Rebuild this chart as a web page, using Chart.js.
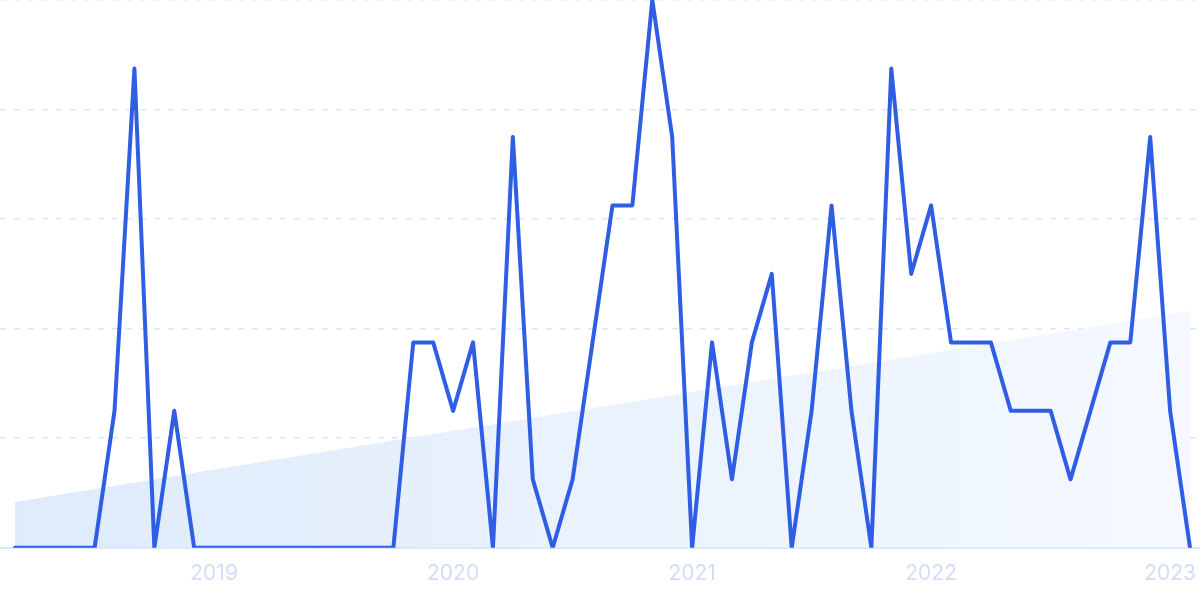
<!DOCTYPE html>
<html>
<head>
<meta charset="utf-8">
<script src="https://cdn.jsdelivr.net/npm/chart.js@4"></script>
<style>
  html, body { margin: 0; padding: 0; background: #fff; }
  #wrap { width: 1200px; height: 599px; position: relative; }
</style>
</head>
<body>
<div id="wrap"><canvas id="lineCanvas"></canvas></div>
<script>
const months = [
  '2018-03', '2018-04', '2018-05', '2018-06', '2018-07', '2018-08', '2018-09', '2018-10', '2018-11', '2018-12',
  '2019-01', '2019-02', '2019-03', '2019-04', '2019-05', '2019-06', '2019-07', '2019-08', '2019-09', '2019-10', '2019-11', '2019-12',
  '2020-01', '2020-02', '2020-03', '2020-04', '2020-05', '2020-06', '2020-07', '2020-08', '2020-09', '2020-10', '2020-11', '2020-12',
  '2021-01', '2021-02', '2021-03', '2021-04', '2021-05', '2021-06', '2021-07', '2021-08', '2021-09', '2021-10', '2021-11', '2021-12',
  '2022-01', '2022-02', '2022-03', '2022-04', '2022-05', '2022-06', '2022-07', '2022-08', '2022-09', '2022-10', '2022-11', '2022-12',
  '2023-01', '2023-02'
];

const interest = [
  0, 0, 0, 0, 0, 2, 7, 0, 2, 0,
  0, 0, 0, 0, 0, 0, 0, 0, 0, 0, 3, 3,
  2, 3, 0, 6, 1, 0, 1, 3, 5, 5, 8, 6,
  0, 3, 1, 3, 4, 0, 2, 5, 2, 0, 7, 4,
  5, 3, 3, 3, 2, 2, 2, 1, 2, 3, 3, 6,
  2, 0
];

// trend line, start and end only
const trendStart = 0.67;
const trendEnd = 3.46;

const yMax = 8;
const yStep = 1.6;

const ctx = document.getElementById('lineCanvas');

new Chart(ctx, {
  type: 'line',
  data: {
    datasets: [{
      label: 'interest',
      data: interest.map((v, i) => ({ x: i, y: v })),
      borderColor: '#2f5de3',
      borderWidth: 4,
      pointRadius: 0,
      tension: 0,
      fill: false,
      borderJoinStyle: 'round',
      borderCapStyle: 'round'
    }, {
      label: 'trend',
      data: [{ x: 0, y: trendStart }, { x: months.length - 1, y: trendEnd }],
      borderWidth: 0,
      pointRadius: 0,
      fill: 'origin',
      backgroundColor: (c) => {
        const area = c.chart.chartArea;
        if (!area) return 'rgba(224,236,251,1)';
        const g = c.chart.ctx.createLinearGradient(area.left, 0, area.right, 0);
        g.addColorStop(0, 'rgba(222,235,251,1)');
        g.addColorStop(1, 'rgba(245,249,255,1)');
        return g;
      }
    }]
  },
  options: {
    responsive: true,
    maintainAspectRatio: false,
    animation: false,
    layout: {
      padding: { left: 0, right: 0, top: 0, bottom: 0 }
    },
    scales: {
      y: {
        min: 0,
        max: yMax,
        display: true,
        ticks: { display: false, stepSize: yStep },
        border: { display: false, dash: [6, 8] },
        grid: {
          color: '#dbe5fa',
          lineWidth: 1.5,
          drawTicks: false
        }
      },
      x: {
        type: 'linear',
        min: -0.75,
        max: months.length - 0.5,
        afterBuildTicks: (scale) => {
          scale.ticks = months
            .map((m, i) => ({ value: i, m }))
            .filter(t => t.m.endsWith('-01'))
            .map(t => ({ value: t.value }));
        },
        afterFit: (scale) => {
          // labels fit inside the canvas, no extra side padding
          scale.paddingLeft = 0;
          scale.paddingRight = 0;
        },
        ticks: {
          autoSkip: false,
          maxRotation: 0,
          padding: 13,
          color: '#d2ddf6',
          font: { family: 'Inter', size: 21 },
          callback: (val) => months[val].slice(0, 4)
        },
        grid: { display: false, drawTicks: false },
        border: { display: true, color: '#d9e6fb', width: 2 }
      }
    },
    plugins: {
      legend: { display: false },
      tooltip: { enabled: false }
    }
  }
});
</script>
</body>
</html>
